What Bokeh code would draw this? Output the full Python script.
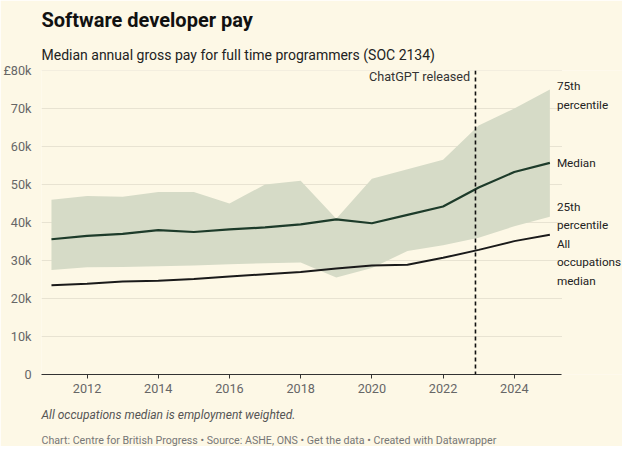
from bokeh.plotting import figure
from bokeh.models import Title, Span, FixedTicker, Range1d
from bokeh.core.properties import value
from bokeh.embed import file_html
from bokeh.resources import INLINE

years = list(range(2011, 2026))
median = [35.6, 36.5, 37.0, 38.0, 37.5, 38.2, 38.7, 39.5, 40.8, 39.8, 42.0, 44.2, 49.2, 53.3, 55.7]
p75 = [46.0, 47.0, 46.8, 48.0, 48.0, 45.0, 50.0, 51.0, 41.0, 51.5, 54.0, 56.5, 65.5, 70.0, 75.0]
p25 = [27.5, 28.2, 28.3, 28.5, 28.7, 29.0, 29.3, 29.5, 25.5, 28.0, 32.5, 34.0, 36.0, 39.0, 41.5]
allocc = [23.5, 23.9, 24.5, 24.7, 25.1, 25.8, 26.4, 27.0, 27.9, 28.7, 28.9, 30.7, 32.8, 35.1, 36.8]
chatgpt_x = 2022.91
yticks = [0, 10, 20, 30, 40, 50, 60, 70, 80]
ylabels = {0: "0", 10: "10k", 20: "20k", 30: "30k", 40: "40k", 50: "50k", 60: "60k", 70: "70k", 80: "£80k"}
series_labels = ["75th\npercentile", "Median", "25th\npercentile", "All\noccupations\nmedian"]
label_y = [73.5, 55.7, 41.7, 29.5]

X0, X1, XEND = 2010.72, 2025.34, 2027.04
BG = "#fdf8e6"
FONT = "Roboto"
p = figure(width=622, height=446, output_backend="svg", toolbar_location=None,
           x_range=Range1d(X0, XEND), y_range=Range1d(0, 80),
           background_fill_color=BG, border_fill_color=BG, outline_line_color=None,
           min_border_right=0, min_border_left=0, min_border_top=8, min_border_bottom=0)
p.xgrid.grid_line_color = None
p.ygrid.grid_line_color = None
p.segment(x0=[X0] * len(yticks), x1=[X1] * len(yticks), y0=yticks, y1=yticks,
          line_color="#e8e3d2", line_width=1)
p.varea(x=years, y1=p25, y2=p75, fill_color="#d6dbc7", fill_alpha=1)
p.line(years, allocc, line_color="#1a1a1a", line_width=2)
p.line(years, median, line_color="#1d3b2a", line_width=2.2)
p.add_layout(Span(location=chatgpt_x, dimension="height", line_dash="4 3", line_width=1.6, line_color="#111"))
p.text(x=[chatgpt_x], y=[80], text=["ChatGPT released"], x_offset=-5, y_offset=-2,
       text_align="right", text_baseline="top", text_font=value(FONT), text_font_size="9.5pt",
       text_color="#333")
p.text(x=[2025] * 4, y=label_y, text=series_labels, x_offset=7, text_baseline="middle",
       text_font=value(FONT), text_font_size="8.8pt", text_color="#222", text_line_height=1.35)

p.xaxis.ticker = FixedTicker(ticks=list(range(2012, 2026, 2)))
p.yaxis.ticker = FixedTicker(ticks=yticks)
p.yaxis.major_label_overrides = ylabels
for ax in (p.xaxis, p.yaxis):
    ax.major_label_text_font = FONT
    ax.major_label_text_font_size = "9.5pt"
    ax.major_label_text_color = "#666"
    ax.major_tick_line_color = None
    ax.minor_tick_line_color = None
p.yaxis.axis_line_color = None
p.yaxis.major_label_standoff = 4
p.xaxis.bounds = (X0, X1)
p.xaxis.axis_line_color = "#333"
p.xaxis.major_tick_line_color = "#333"
p.xaxis.major_tick_in = 0
p.xaxis.major_tick_out = 4

p.add_layout(Title(text="Median annual gross pay for full time programmers (SOC 2134)", text_font=FONT,
                   text_font_size="10.5pt", text_font_style="normal", text_color="#222", standoff=16), "above")
p.add_layout(Title(text="Software developer pay", text_font=FONT, text_font_size="15pt",
                   text_font_style="bold", text_color="#111"), "above")
p.add_layout(Title(text="All occupations median is employment weighted.", text_font=FONT, text_font_size="9pt",
                   text_font_style="italic", text_color="#555", standoff=20), "below")
p.add_layout(Title(text="Chart: Centre for British Progress • Source: ASHE, ONS • Get the data • Created with Datawrapper",
                   text_font=FONT, text_font_size="8pt", text_font_style="normal", text_color="#777",
                   standoff=0), "below")

open("out.html", "w").write(file_html(p, INLINE))
